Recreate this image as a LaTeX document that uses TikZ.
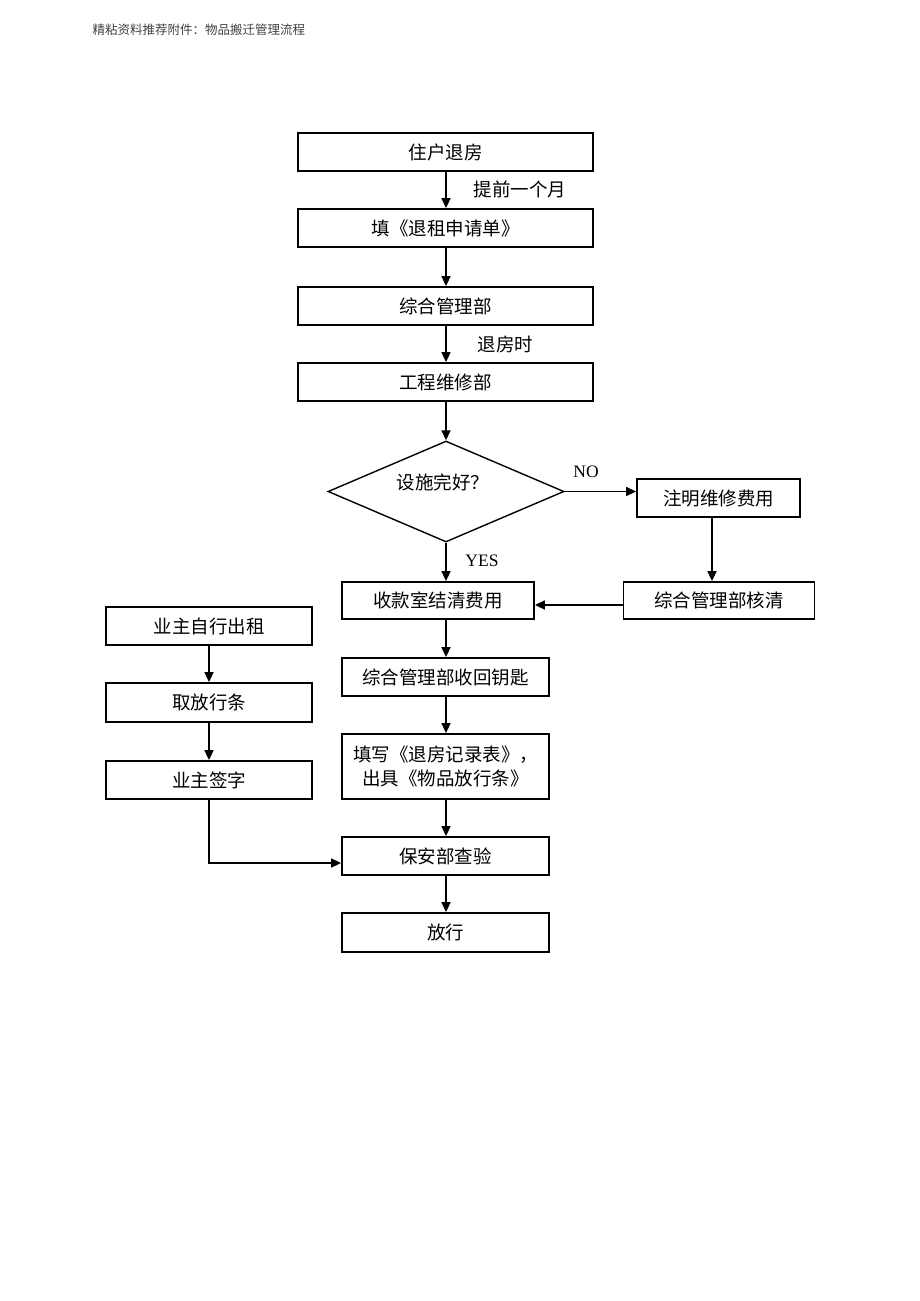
\documentclass[tikz,border=0pt]{standalone}
\usepackage{fontspec}
\setmainfont{Liberation Serif}
\newfontfamily\cjk{Noto Sans CJK SC}
\usetikzlibrary{arrows.meta,shapes.geometric}
\begin{document}
\begin{tikzpicture}[x=1pt,y=-1pt,
  box/.style={draw,line width=1.8pt,inner sep=0pt,font=\cjk\fontsize{18.5}{23}\selectfont},
  arr/.style={line width=1.6pt,-{Triangle[length=10pt,width=9pt]}},
  lbl/.style={font=\cjk\fontsize{18.5}{23}\selectfont},
  lat/.style={font=\fontsize{17.5}{20}\selectfont}]
\useasboundingbox (0,0) rectangle (920,1301);
\node[anchor=west,font=\cjk\fontsize{12.5}{15}\selectfont,text=black!75] (hdr) at (89,30) {精粘资料推荐附件：物品搬迁管理流程};

\node[box,minimum width=295pt,minimum height=38pt] (b1) at (445.5,152) {住户退房};
\node[box,minimum width=295pt,minimum height=38pt] (b2) at (445.5,228) {填《退租申请单》};
\node[box,minimum width=295pt,minimum height=38pt] (b3) at (445.5,306) {综合管理部};
\node[box,minimum width=295pt,minimum height=38pt] (b4) at (445.5,382) {工程维修部};
\node[box,diamond,aspect=2.34,minimum width=236pt,minimum height=101pt,line width=1.4pt] (d) at (446,491.5) {};
\node[lbl] (dt) at (443,482) {设施完好？};
\node[box,minimum width=163pt,minimum height=38pt] (n1) at (718.5,498) {注明维修费用};
\node[box,minimum width=191pt,minimum height=37pt] (n2) at (719,600.5) {综合管理部核清};
\node[box,minimum width=192pt,minimum height=37pt] (c1) at (438,600.5) {收款室结清费用};
\node[box,minimum width=207pt,minimum height=38pt] (c2) at (445.5,677) {综合管理部收回钥匙};
\node[box,minimum width=207pt,minimum height=65pt,align=center] (c3) at (445.5,766.5) {填写《退房记录表》，\\[1pt]出具《物品放行条》};
\node[box,minimum width=207pt,minimum height=38pt] (c4) at (445.5,856) {保安部查验};
\node[box,minimum width=207pt,minimum height=39pt] (c5) at (445.5,932.5) {放行};
\node[box,minimum width=206pt,minimum height=38pt] (l1) at (209,626) {业主自行出租};
\node[box,minimum width=206pt,minimum height=39pt] (l2) at (209,702.5) {取放行条};
\node[box,minimum width=206pt,minimum height=38pt] (l3) at (209,780) {业主签字};

\node[lbl,anchor=west] (t1) at (470,189) {提前一个月};
\node[lbl,anchor=west] (t2) at (474,344) {退房时};
\node[lat] (no) at (586,472) {NO};
\node[lat] (yes) at (482,561) {YES};

\coordinate (cx) at (446,0);
\draw[arr] (b1.south -| cx) -- (b2.north -| cx);
\draw[arr] (b2.south -| cx) -- (b3.north -| cx);
\draw[arr] (b3.south -| cx) -- (b4.north -| cx);
\draw[arr] (b4.south -| cx) -- (d.north);
\draw[arr] (d.east) -- (n1.west |- d.east);
\draw[arr] (d.south) -- (c1.north -| d.south);
\draw[arr] (n1.south -| 712,0) -- (n2.north -| 712,0);
\draw[arr] (n2.west |- 0,605) -- (c1.east |- 0,605);
\draw[arr] (c1.south -| cx) -- (c2.north -| cx);
\draw[arr] (c2.south -| cx) -- (c3.north -| cx);
\draw[arr] (c3.south -| cx) -- (c4.north -| cx);
\draw[arr] (c4.south -| cx) -- (c5.north -| cx);
\draw[arr] (l1.south) -- (l2.north);
\draw[arr] (l2.south) -- (l3.north);
\draw[arr] (l3.south) |- (c4.west |- 0,863);
\end{tikzpicture}
\end{document}
